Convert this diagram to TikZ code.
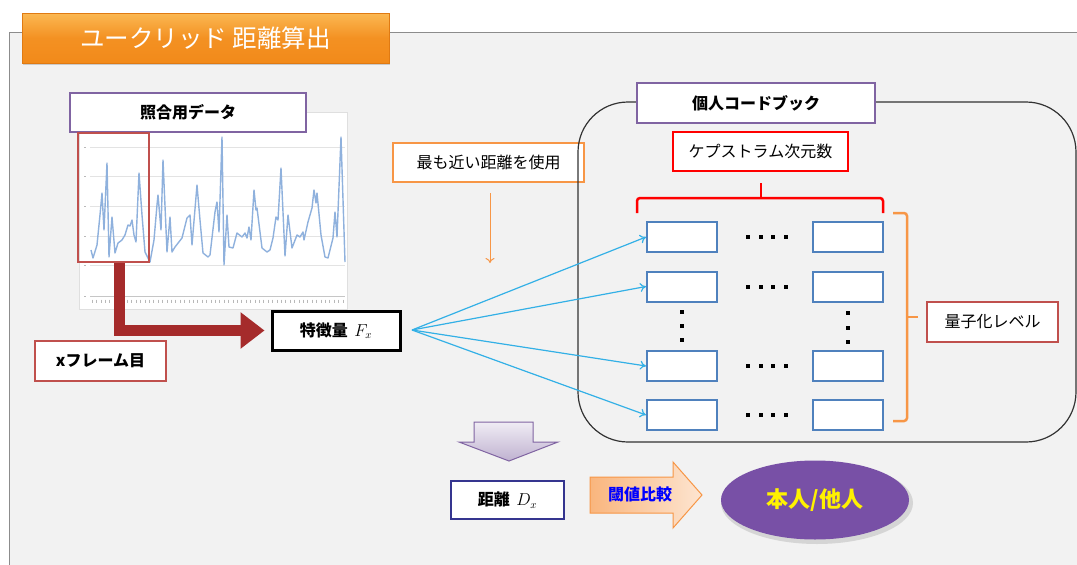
\documentclass[tikz,border=0pt]{standalone}
\usepackage{fontspec}
\setmainfont{Noto Sans CJK JP}
\usetikzlibrary{arrows.meta,shadows,calc}
\definecolor{panelbg}{HTML}{F2F2F2}
\definecolor{panelline}{HTML}{8C8C8C}
\definecolor{bannertop}{HTML}{FBB852}
\definecolor{bannerbot}{HTML}{F28A1A}
\definecolor{bannerline}{HTML}{E07A12}
\definecolor{ppurple}{HTML}{8064A2}
\definecolor{pred}{HTML}{C0504D}
\definecolor{porange}{HTML}{F79646}
\definecolor{pblue}{HTML}{4F81BD}
\definecolor{pcyan}{HTML}{33B0E6}
\definecolor{darkredarrow}{HTML}{A52B2B}
\definecolor{navybox}{HTML}{35358F}
\definecolor{ellfill}{HTML}{7850A6}
\definecolor{plotblue}{HTML}{8FB1DD}
\definecolor{gridgray}{HTML}{E3E3E3}
\begin{document}
\begin{tikzpicture}[x=1pt,y=-1pt,
  cbox/.style={draw, fill=white, inner sep=0pt, line width=2.2pt},
  cell/.style={draw=pblue, fill=white, line width=2pt, inner sep=0pt, minimum width=70pt, minimum height=30pt},
  jt/.style={font=\fontsize{16}{18}\selectfont},
  jb/.style={font=\fontsize{16}{18}\selectfont\bfseries},
  cyanarrow/.style={draw=pcyan, line width=1.2pt, -{To[length=6pt,width=9pt]}},
]
\useasboundingbox (0,0) rectangle (1077,565);
% panel
\fill[panelbg] (9,32) rectangle (1080,570);
\draw[panelline, line width=1pt] (1080,32) -- (9,32) -- (9,570);
% banner
\node[draw=bannerline, line width=0.6pt, top color=bannertop, bottom color=bannerbot, middle color=bannerbot!85!bannertop,
      minimum width=367pt, minimum height=50pt, inner sep=0pt, text=white,
      font=\fontsize{24.5}{28}\selectfont, drop shadow={opacity=0.35, shadow xshift=1pt, shadow yshift=-2pt}]
      (title) at (205.5,38) {ユークリッド 距離算出};
% chart
\fill[white] (79,112) rectangle (347,309);
\draw[gray!25, line width=0.6pt] (79,112) rectangle (347,309);
\foreach \yy in {147,176,206,236,265} \draw[gridgray, line width=0.7pt] (90,\yy) -- (345,\yy);
\draw[gray!45, line width=0.7pt] (90,296) -- (345,296);
\foreach \yy in {147,176,206,236,265,296} \draw[gray!55, line width=0.6pt] (84,\yy) -- (86,\yy);
\foreach \xx in {92,96.4,...,344} \draw[gray!55, line width=0.5pt] (\xx,299.5) -- (\xx,303);
\draw[plotblue, line width=1.4pt, line join=round] plot coordinates {
(91,250) (93,258) (97,245) (100,215) (102,193) (104,230) (107,163) (109,257) (112,217) (115,253) (118,243) (122,240) (125,235) (128,225) (130,226) (132,220) (134,235) (136,242) (139,173) (142,215) (145,252) (150,262) (154,240) (157,205) (158,195) (161,230) (163,160) (167,252) (170,217) (172,252) (175,247) (182,238) (187,218) (190,215) (192,245) (197,185) (200,220) (203,253) (208,257) (210,255) (215,212) (217,202) (219,232) (222,137) (224,265) (227,215) (229,247) (233,248) (237,233) (242,237) (245,233) (247,238) (249,227) (251,240) (254,190) (256,210) (257,208) (262,248) (267,252) (270,250) (273,238) (276,217) (278,220) (281,168) (285,256) (288,215) (292,248) (297,235) (300,237) (303,232) (304,240) (308,222) (312,208) (314,190) (316,203) (317,193) (321,235) (325,257) (328,258) (333,238) (335,212) (337,237) (341,137) (345,262)};
% data label box
\node[cbox, draw=ppurple, line width=2.5pt, minimum width=236pt, minimum height=39pt, jb] (data) at (188,112.5) {照合用データ};
% frame marker
\node[draw=pred, line width=2.4pt, inner sep=0pt, minimum width=71pt, minimum height=129pt] (frame) at (113.5,197.5) {};
% feature box
\node[cbox, draw=black, line width=3pt, minimum width=128pt, minimum height=39pt, jb] (feat) at (336,330.5) {特徴量 \,$F_x$};
% thick dark red arrow
\draw[darkredarrow, line width=11pt, -{Triangle[length=24pt,width=35pt]}, shorten >=6pt]
  ([xshift=5.5pt]frame.south) |- (feat.west);
% x frame box
\node[cbox, draw=pred, line width=2.5pt, minimum width=131pt, minimum height=40pt, jb] (xframe) at (100.5,361) {xフレーム目};
% nearest distance note
\node[cbox, draw=porange, line width=2pt, minimum width=191pt, minimum height=39pt, jt] (near) at (488.5,162.5) {最も近い距離を使用};
\draw[porange, line width=1pt, -{To[length=5pt,width=9pt]}] ([xshift=1.5pt,yshift=-10pt]near.south) -- ++(0,70);
% codebook container
\draw[black!80, line width=1.2pt, rounded corners=50pt] (578,102) rectangle (1076,442);
\node[cbox, draw=ppurple, line width=2.5pt, minimum width=238pt, minimum height=40pt, jb] (cb) at (756,103) {個人コードブック};
\node[cbox, draw=red, line width=2.5pt, minimum width=175pt, minimum height=39pt, jt] (cep) at (760.5,151.5) {ケプストラム次元数};
% red brace
\draw[red, line width=2.5pt, rounded corners=3pt] (637,213) -- (637,198) -- (883,198) -- (883,213);
\draw[red, line width=2.5pt] (761,198) -- (761,183);
% cells
\node[cell] (a1) at (682,237) {};
\node[cell] (b1) at (847.5,237) {};
\node[cell] (a2) at (682,286.5) {};
\node[cell] (b2) at (847.5,286.5) {};
\node[cell] (a3) at (682,366) {};
\node[cell] (b3) at (847.5,366) {};
\node[cell] (a4) at (682,415) {};
\node[cell] (b4) at (847.5,415) {};
% dots
\foreach \yy in {237,286.5,366,415}
  \foreach \xx in {748,760.5,773,785.5}
    \fill (\xx-2,\yy-2) rectangle (\xx+2,\yy+2);
\foreach \yy in {312,326,340} \fill (682-2,\yy-2) rectangle (682+2,\yy+2);
\foreach \yy in {313,327.5,342} \fill (847.5-2,\yy-2) rectangle (847.5+2,\yy+2);
% orange brace
\draw[porange, line width=2.5pt, rounded corners=3pt] (893,213) -- (907,213) -- (907,421) -- (893,421);
\draw[porange, line width=2.5pt] (907,317) -- (918,317);
\node[cbox, draw=pred, line width=2.5pt, minimum width=131pt, minimum height=40pt, jt] (qlev) at (992.5,322) {量子化レベル};
% cyan arrows
\coordinate (src) at (412,330);
\draw[cyanarrow] (src) -- (a1.west);
\draw[cyanarrow] (src) -- (a2.west);
\draw[cyanarrow] (src) -- (a3.west);
\draw[cyanarrow] (src) -- (a4.west);
% purple down block arrow
\draw[ppurple, line width=1pt, top color=ppurple!12, bottom color=ppurple!50]
  (474,422) -- (533,422) -- (533,442) -- (558,442) -- (509,461) -- (459,442) -- (474,442) -- cycle;
% distance box
\node[cbox, draw=navybox, line width=2.5pt, minimum width=113pt, minimum height=38pt, jb] (dist) at (507.5,500) {距離 \,$D_x$};
% orange block arrow
\draw[porange, line width=1pt, left color=porange!70, right color=porange!25]
  (590,477) -- (673,477) -- (673,462) -- (702,495) -- (673,528) -- (673,513) -- (590,513) -- cycle;
\node[jb, text=blue, inner sep=0pt] (cmp) at (640,494) {閾値比較};
% result ellipse
\fill[gray, opacity=0.25] (817,503) ellipse [x radius=96, y radius=41];
\fill[ellfill] (815,500) ellipse [x radius=94, y radius=39.5];
\node[text=yellow, font=\fontsize{22}{24}\selectfont\bfseries, inner sep=0pt] (res) at (815,500) {本人/他人};
\end{tikzpicture}
\end{document}
